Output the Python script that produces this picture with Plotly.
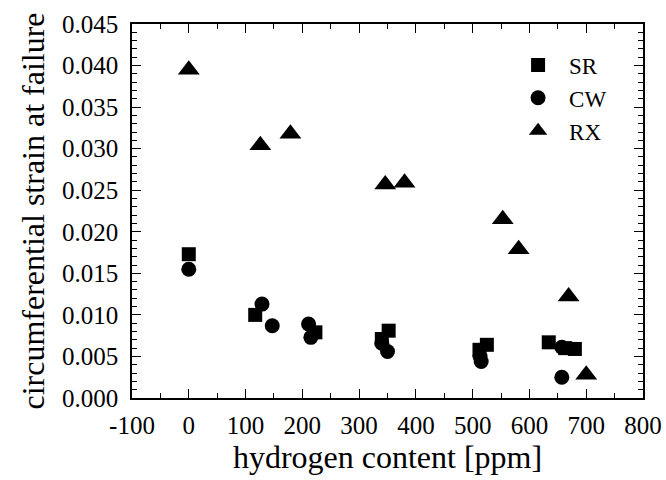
import plotly.graph_objects as go

# SR (stress relieved)
sr_x = [0, 117, 223, 352, 340, 525, 512, 634, 663, 680]
sr_y = [0.0173, 0.0100, 0.0079, 0.0081, 0.0071, 0.0064, 0.0058, 0.0067, 0.0060, 0.0059]
# CW (cold worked)
cw_x = [0, 129, 147, 211, 215, 350, 340, 513, 515, 657, 657]
cw_y = [0.0155, 0.0113, 0.0087, 0.0089, 0.0073, 0.0056, 0.0066, 0.0050, 0.0044, 0.0061, 0.0025]
# RX (recrystallized)
rx_x = [0, 126, 179, 346, 380, 553, 581, 669, 700]
rx_y = [0.0395, 0.0304, 0.0318, 0.0257, 0.0259, 0.0215, 0.0179, 0.0122, 0.0028]

xticks = [-100, 0, 100, 200, 300, 400, 500, 600, 700, 800]
yticks = [0.000, 0.005, 0.010, 0.015, 0.020, 0.025, 0.030, 0.035, 0.040, 0.045]

font = "Liberation Serif, Times New Roman, serif"

fig = go.Figure()
fig.add_trace(go.Scatter(x=sr_x, y=sr_y, mode="markers", name="SR",
                         marker=dict(symbol="square", size=14, color="black")))
fig.add_trace(go.Scatter(x=cw_x, y=cw_y, mode="markers", name="CW",
                         marker=dict(symbol="circle", size=15, color="black")))
fig.add_trace(go.Scatter(x=rx_x, y=rx_y, mode="markers", name="RX",
                         marker=dict(symbol="triangle-up", size=19, color="black")))

axis_common = dict(
    showline=True, linecolor="black", linewidth=1.5, mirror="ticks",
    ticks="inside", ticklen=9, tickwidth=1.2, tickcolor="black",
    showgrid=False, zeroline=False, automargin=False,
    tickfont=dict(family=font, size=25, color="black"),
)

fig.update_xaxes(
    range=[-100, 800], tickvals=xticks, ticktext=[str(v) for v in xticks],
    title=dict(text="hydrogen content [ppm]", font=dict(family=font, size=32, color="black"), standoff=3),
    minor=dict(ticks="inside", dtick=50, tick0=-100, ticklen=5, tickcolor="black", tickwidth=1),
    ticklabelstandoff=4,
    **axis_common,
)
fig.update_yaxes(
    range=[0, 0.045], tickvals=yticks, ticktext=[f"{v:.3f}" for v in yticks],
    title=dict(text="circumferential strain at failure", font=dict(family=font, size=32, color="black"), standoff=8),
    minor=dict(ticks="inside", dtick=0.001, tick0=0, ticklen=5, tickcolor="black", tickwidth=1),
    ticklabelstandoff=7,
    **axis_common,
)

fig.update_layout(
    width=666, height=480,
    margin=dict(l=132, r=23, t=24, b=82),
    plot_bgcolor="white", paper_bgcolor="white",
    showlegend=True,
    legend=dict(x=0.734, y=0.948, xanchor="left", yanchor="top",
                font=dict(family=font, size=23, color="black"),
                bgcolor="rgba(0,0,0,0)", itemwidth=52, tracegroupgap=0),
)

# remove the default 8px page margin so the figure fills the window exactly
fig.write_html("out.html", config={"displayModeBar": False},
               post_script="document.body.style.margin='0';")
